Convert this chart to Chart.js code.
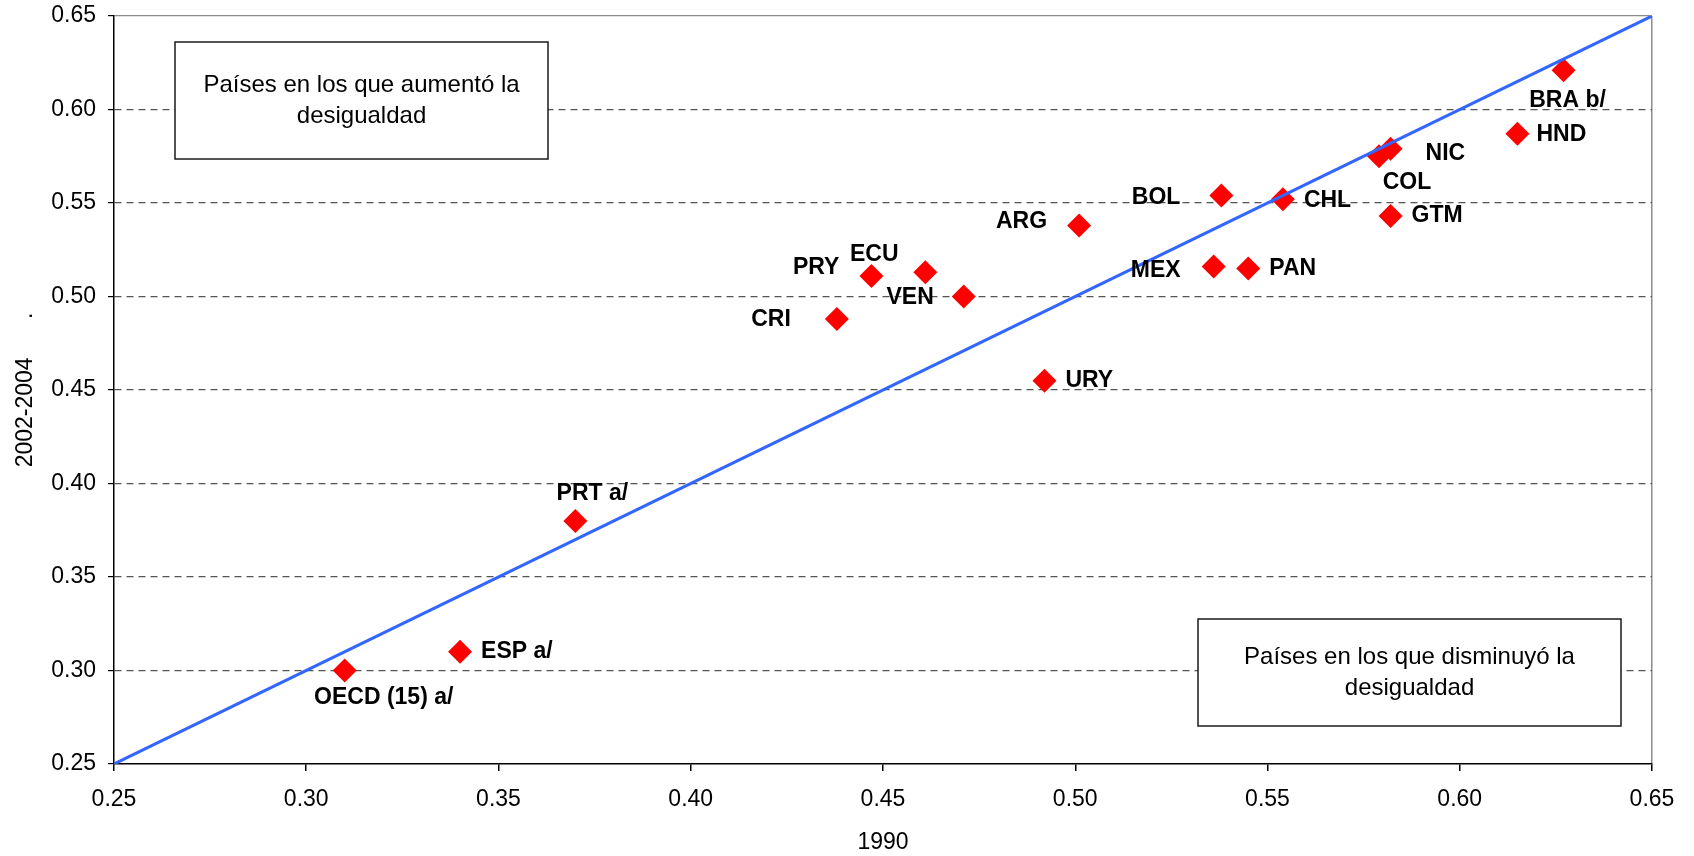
<!DOCTYPE html>
<html><head><meta charset="utf-8">
<script src="https://cdn.jsdelivr.net/npm/chart.js@4"></script>
<style>html,body{margin:0;padding:0;background:#fff;}</style>
</head><body>
<canvas id="c" width="1694" height="856" style="display:block;width:1694px;height:856px"></canvas>
<script>
const countries = ['OECD (15) a/','ESP a/','PRT a/','CRI','PRY','ECU','VEN','URY','ARG','BOL','MEX','PAN','CHL','COL','NIC','GTM','HND','BRA b/'];
const gini1990 = [0.310,0.340,0.370,0.438,0.447,0.461,0.471,0.492,0.501,0.538,0.536,0.545,0.554,0.579,0.582,0.582,0.615,0.627];
const gini2003 = [0.300,0.310,0.380,0.488,0.511,0.513,0.500,0.455,0.538,0.554,0.516,0.515,0.552,0.575,0.579,0.543,0.587,0.621];
const equalityX = [0.25,0.65];
const equalityY = [0.25,0.65];
const tickValues = [0.25,0.30,0.35,0.40,0.45,0.50,0.55,0.60,0.65];
const tickLabels = ['0.25','0.30','0.35','0.40','0.45','0.50','0.55','0.60','0.65'];
const xTitle = '1990';
const yTitle = '2002-2004      .';
const boxTexts = [['Países en los que aumentó la','desigualdad'],['Países en los que disminuyó la','desigualdad']];

// styling (label offsets in px, relative to the point)
const labelStyle = {
  'OECD (15) a/':{dx:39,dy:27,align:'center'},
  'ESP a/':{dx:21,dy:0,align:'left'},
  'PRT a/':{dx:17,dy:-27,align:'center'},
  'CRI':{dx:-46,dy:1,align:'right'},
  'PRY':{dx:-32,dy:-8,align:'right'},
  'ECU':{dx:-51,dy:-18,align:'center'},
  'VEN':{dx:-30,dy:1,align:'right'},
  'URY':{dx:21,dy:0,align:'left'},
  'ARG':{dx:-32,dy:-4,align:'right'},
  'BOL':{dx:-41,dy:2,align:'right'},
  'MEX':{dx:-33,dy:4,align:'right'},
  'PAN':{dx:21,dy:0,align:'left'},
  'CHL':{dx:21,dy:1,align:'left'},
  'COL':{dx:28,dy:26,align:'center'},
  'NIC':{dx:35,dy:5,align:'left'},
  'GTM':{dx:21,dy:0,align:'left'},
  'HND':{dx:19,dy:1,align:'left'},
  'BRA b/':{dx:4,dy:30,align:'center'}
};
const boxRects = [{x:175,y:42,w:373,h:117},{x:1198,y:619,w:423,h:107}];
const FONT = '"Liberation Sans", Arial, sans-serif';

const labelPlugin = {
  id:'labels',
  afterDatasetsDraw(chart){
    const ctx = chart.ctx;
    const meta = chart.getDatasetMeta(1);
    ctx.save();
    ctx.fillStyle = '#000';
    ctx.font = 'bold 23px ' + FONT;
    ctx.textBaseline = 'middle';
    meta.data.forEach((pt,i)=>{
      const st = labelStyle[countries[i]];
      ctx.textAlign = st.align;
      ctx.fillText(countries[i], pt.x + st.dx, pt.y + st.dy);
    });
    ctx.restore();
  },
  afterDraw(chart){
    const ctx = chart.ctx;
    ctx.save();
    boxRects.forEach((r,k)=>{
      ctx.fillStyle = '#fff';
      ctx.fillRect(r.x,r.y,r.w,r.h);
      ctx.strokeStyle = '#1a1a1a';
      ctx.lineWidth = 1.5;
      ctx.strokeRect(r.x,r.y,r.w,r.h);
      ctx.fillStyle = '#000';
      ctx.font = '24px ' + FONT;
      ctx.textAlign = 'center';
      ctx.textBaseline = 'middle';
      const cx = r.x + r.w/2, cy = r.y + r.h/2;
      ctx.fillText(boxTexts[k][0], cx, cy - 15.5);
      ctx.fillText(boxTexts[k][1], cx, cy + 15.5);
    });
    ctx.restore();
  }
};

new Chart(document.getElementById('c'), {
  type:'scatter',
  data:{
    datasets:[
      {type:'line', data:equalityX.map((x,i)=>({x:x,y:equalityY[i]})), borderColor:'#3366ff', borderWidth:3, pointRadius:0, fill:false, tension:0},
      {data:gini1990.map((x,i)=>({x:x,y:gini2003[i]})), pointStyle:'rectRot', pointRadius:12, pointHoverRadius:12, backgroundColor:'#ff0000', borderColor:'#ff0000', borderWidth:0}
    ]
  },
  options:{
    responsive:false, animation:false, devicePixelRatio:1,
    layout:{padding:{top:16,right:42,left:0,bottom:0}},
    plugins:{legend:{display:false}, tooltip:{enabled:false}},
    scales:{
      x:{
        type:'linear', min:0.25, max:0.65,
        afterBuildTicks(s){ s.ticks = tickValues.map(v=>({value:v})); },
        afterFit(s){ s.height = 92; s.paddingLeft = 0; s.paddingRight = 0; },
        ticks:{ callback:(v,i)=>tickLabels[i], color:'#000', font:{family:FONT,size:23}, padding:15, maxRotation:0 },
        grid:{ color:(c)=> (c.tick && Math.abs(c.tick.value-0.65)<1e-6) ? '#8c8c8c' : 'rgba(0,0,0,0)', lineWidth:1.5, tickColor:'#000', tickLength:7, drawOnChartArea:true },
        border:{ color:'#000', width:1.5 },
        title:{ display:true, text:xTitle, color:'#000', font:{family:FONT,size:23}, padding:{top:1,bottom:0} }
      },
      y:{
        type:'linear', min:0.25, max:0.65,
        afterBuildTicks(s){ s.ticks = tickValues.map(v=>({value:v})); },
        afterFit(s){ s.width = 114; s.paddingTop = 0; s.paddingBottom = 0; },
        ticks:{ callback:(v,i)=>tickLabels[i], color:'#000', font:{family:FONT,size:23}, padding:12 },
        grid:{ color:(c)=> (c.tick && Math.abs(c.tick.value-0.65)<1e-6) ? '#8c8c8c' : (c.tick && Math.abs(c.tick.value-0.25)<1e-6 ? 'rgba(0,0,0,0)' : '#555'), lineWidth:1.2, tickColor:'#000', tickLength:6 },
        border:{ color:'#000', width:1.5, dash:(c)=> (c.tick && Math.abs(c.tick.value-0.65)<1e-6) ? [] : [7,5] },
        title:{ display:true, text:yTitle, color:'#000', font:{family:FONT,size:23}, padding:{top:12,bottom:0} }
      }
    }
  },
  plugins:[labelPlugin]
});
</script>
</body></html>
